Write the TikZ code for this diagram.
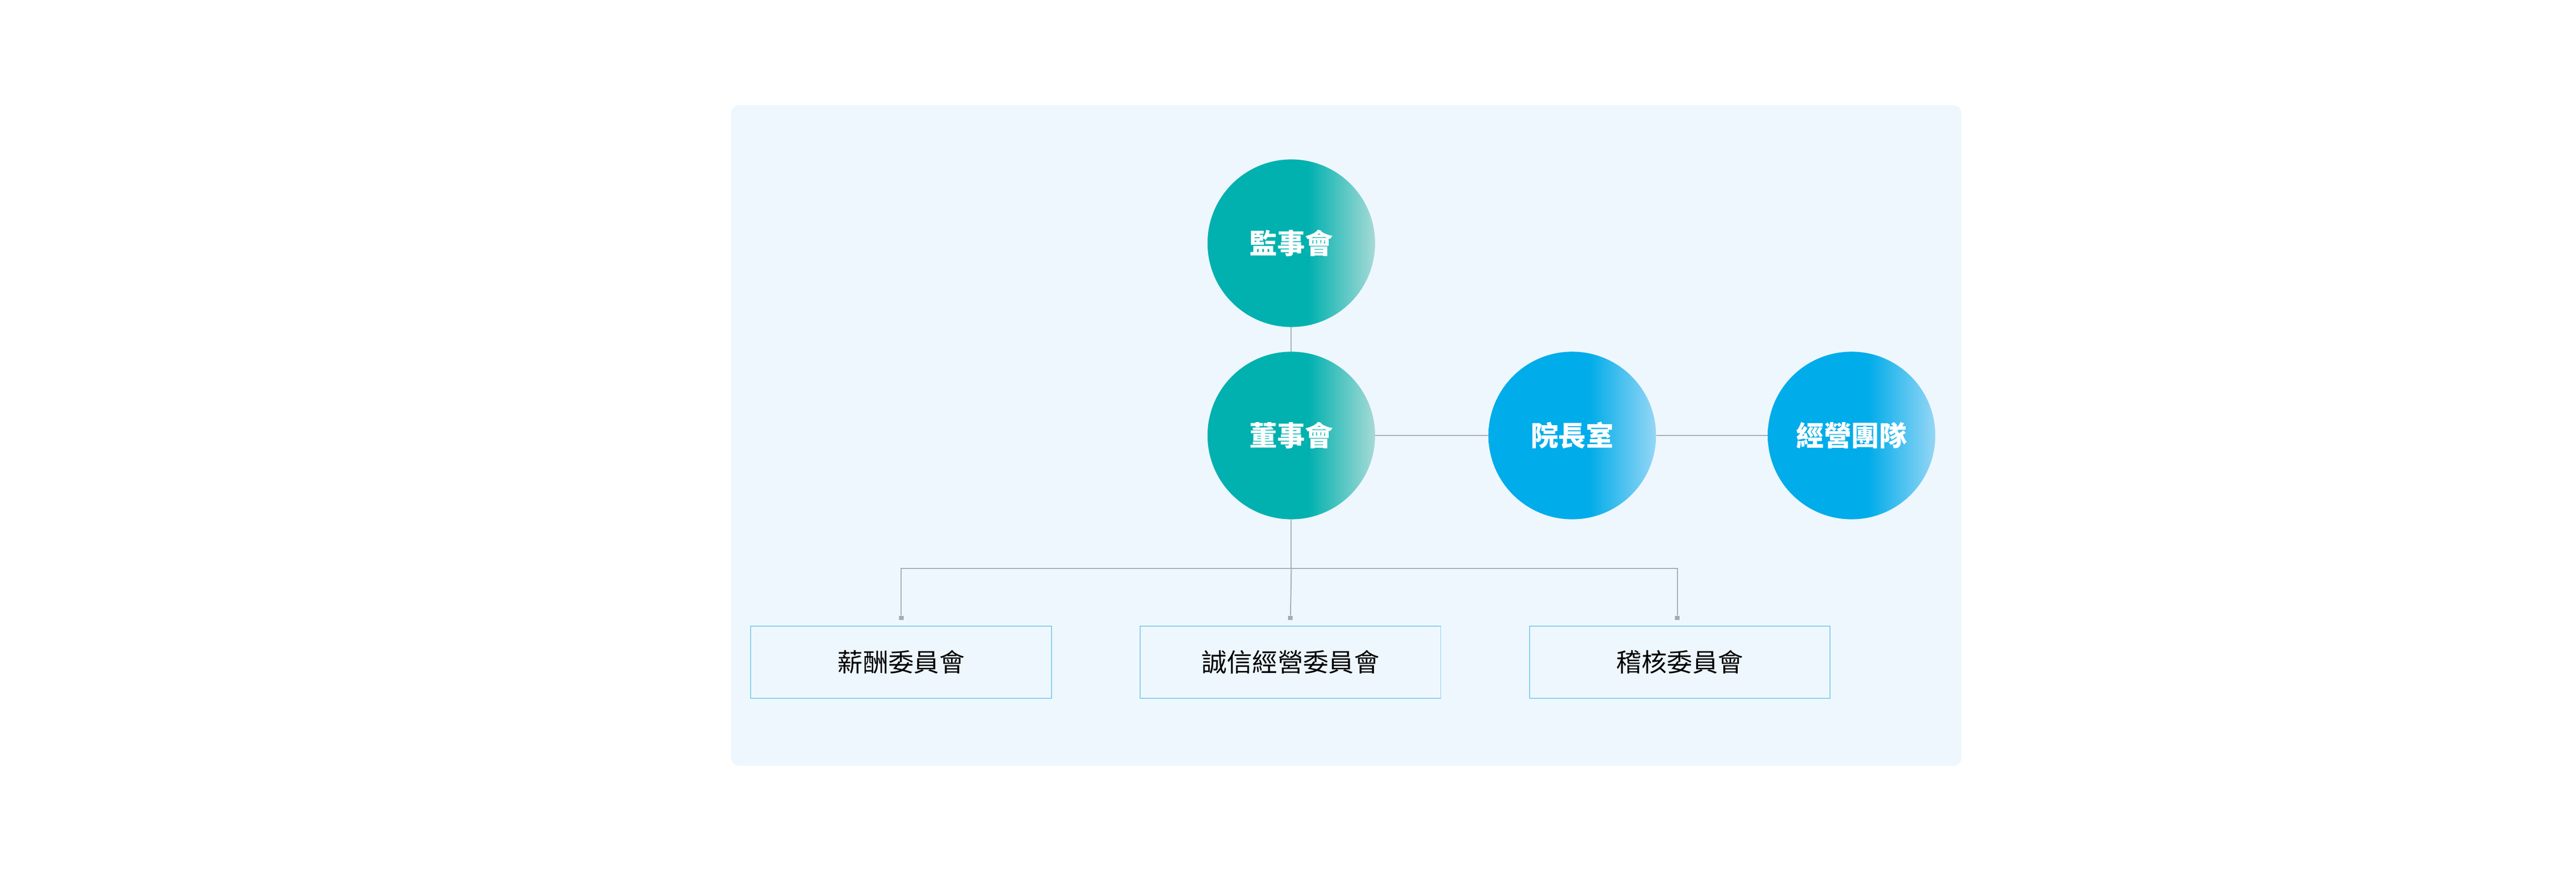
\documentclass[tikz,border=0pt]{standalone}
\usepackage{fontspec}
\setmainfont{Noto Sans CJK TC}
\usetikzlibrary{positioning}
\definecolor{panelbg}{HTML}{EEF7FD}
\definecolor{tealA}{HTML}{00B1AF}
\definecolor{tealB}{HTML}{A6DAD6}
\definecolor{blueA}{HTML}{00ACE9}
\definecolor{blueB}{HTML}{95D6F6}
\definecolor{linkgray}{HTML}{A3ABB3}
\definecolor{boxline}{HTML}{86D0EC}
\pgfdeclarehorizontalshading{tealfade}{100bp}{color(0bp)=(tealA); color(55bp)=(tealA); color(75bp)=(tealB); color(100bp)=(tealB)}
\pgfdeclarehorizontalshading{bluefade}{100bp}{color(0bp)=(blueA); color(55bp)=(blueA); color(75bp)=(blueB); color(100bp)=(blueB)}
\tikzset{
  circ/.style={circle,minimum size=5.1cm,inner sep=0pt,text=white,font=\bfseries\fontsize{24}{28}\selectfont},
  teal/.style={circ,shading=tealfade},
  blue/.style={circ,shading=bluefade},
  box/.style={draw=boxline,line width=0.8pt,minimum width=9.15cm,minimum height=2.2cm,font=\fontsize{22}{26}\selectfont},
  link/.style={draw=linkgray,line width=0.9pt},
  tick/.style={fill=linkgray,minimum size=4pt,inner sep=0pt}
}
\begin{document}
\begin{tikzpicture}[x=0.05cm,y=-0.05cm]
    \useasboundingbox (0,0) rectangle (1568,531);
    \fill[panelbg,rounded corners=0.25cm] (445,64) rectangle (1194,466);

    \node[teal] (supervisors) at (786,148) {監事會};
    \node[teal] (board) at (786,265) {董事會};
    \node[blue] (president) at (957,265) {院長室};
    \node[blue] (management) at (1127,265) {經營團隊};

    \node[box] (pay) at (548.5,403) {薪酬委員會};
    \node[box] (ethics) at (785.5,403) {誠信經營委員會};
    \node[box] (audit) at (1022.5,403) {稽核委員會};

    \coordinate (split) at (786,346);
    \node[tick] (tpay) at (548.5,376) {};
    \node[tick] (tethics) at (785.5,376) {};
    \node[tick] (taudit) at (1021,376) {};

    \draw[link] (supervisors) -- (board);
    \draw[link] (board) -- (president);
    \draw[link] (president) -- (management);
    \draw[link] (board) -- (split);
    \draw[link] (split) -| (tpay);
    \draw[link] (split) -| (taudit);
    \draw[link] (split) -- (tethics);
  \end{tikzpicture}
\end{document}
